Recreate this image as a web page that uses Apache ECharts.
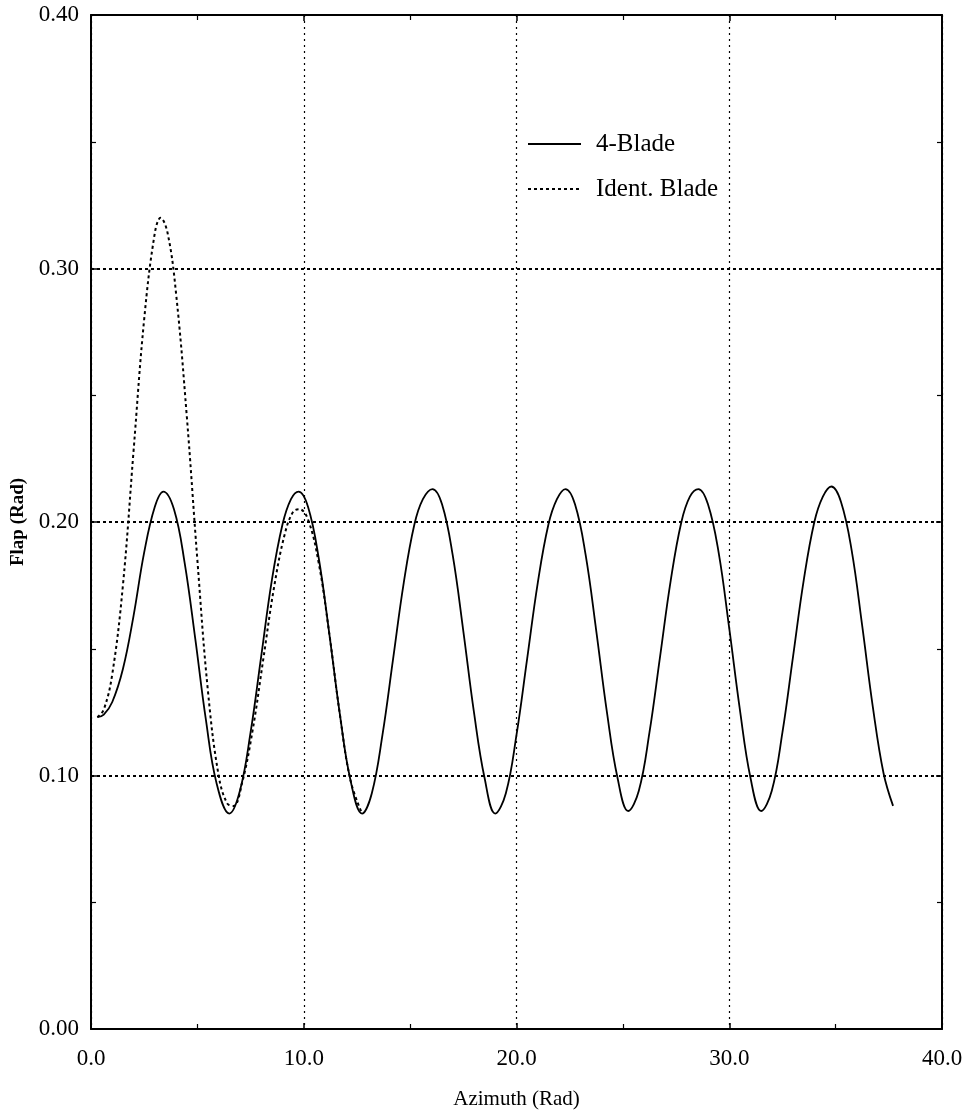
<!DOCTYPE html>
<html>
<head>
<meta charset="utf-8">
<script src="https://cdn.jsdelivr.net/npm/echarts@6/dist/echarts.min.js"></script>
<style>html,body{margin:0;padding:0;background:#fff;}#c{width:969px;height:1115px;}</style>
</head>
<body>
<div id="c"></div>
<script>
var xTicks = [0, 10, 20, 30, 40];
var yTicks = [0, 0.1, 0.2, 0.3, 0.4];

var fourBladeX = [0.3,0.6,1.0,1.5,2.0,2.5,3.0,3.4,3.9,4.4,4.9,5.4,5.9,6.5,7.0,7.5,8.0,8.5,9.0,9.4,9.76,10.2,10.7,11.2,11.7,12.2,12.74,13.2,13.7,14.2,14.7,15.2,15.6,16.05,16.5,17.0,17.5,18.0,18.5,19.0,19.5,20.0,20.5,21.0,21.5,21.9,22.3,22.75,23.25,23.75,24.25,24.75,25.25,25.75,26.25,26.75,27.25,27.75,28.15,28.55,29.0,29.5,30.0,30.5,31.0,31.5,32.0,32.5,33.0,33.5,34.0,34.4,34.8,35.25,35.75,36.25,36.75,37.25,37.7];
var fourBladeY = [0.123,0.124,0.129,0.142,0.163,0.188,0.206,0.212,0.205,0.184,0.154,0.122,0.097,0.085,0.094,0.117,0.147,0.177,0.199,0.209,0.212,0.206,0.186,0.156,0.124,0.098,0.085,0.093,0.116,0.146,0.176,0.199,0.209,0.213,0.207,0.187,0.157,0.125,0.099,0.085,0.093,0.116,0.146,0.176,0.199,0.209,0.213,0.207,0.187,0.157,0.125,0.099,0.086,0.094,0.117,0.147,0.177,0.200,0.210,0.213,0.207,0.188,0.158,0.126,0.099,0.086,0.094,0.117,0.147,0.177,0.200,0.210,0.214,0.208,0.189,0.159,0.127,0.101,0.088];

var identX = [0.3,0.6,1.0,1.5,2.0,2.5,3.0,3.27,3.6,4.0,4.5,5.0,5.5,6.0,6.4,6.7,7.1,7.6,8.1,8.6,9.1,9.5,9.8,10.2,10.7,11.2,11.7,12.2,12.74];
var identY = [0.123,0.126,0.140,0.175,0.228,0.280,0.314,0.320,0.314,0.290,0.242,0.185,0.133,0.100,0.089,0.088,0.097,0.118,0.146,0.174,0.195,0.204,0.205,0.201,0.184,0.156,0.124,0.098,0.085];

function pairs(xs, ys){ var out=[]; for(var i=0;i<xs.length;i++) out.push([xs[i], ys[i]]); return out; }

var FONT = 'Liberation Serif';
var chart = echarts.init(document.getElementById('c'));
var axisLine = {show:true, onZero:false, lineStyle:{color:'#000', width:2}};
var axisTick = {show:true, inside:true, length:6, lineStyle:{color:'#000', width:1.5}};
var minorTick = {show:true, splitNumber:2, length:5, lineStyle:{color:'#000', width:1.2}};
chart.setOption({
  backgroundColor:'#fff',
  animation:false,
  grid:{left:91, right:27, top:15, bottom:86, show:false, containLabel:false, outerBoundsMode:'none'},
  legend:{
    left:522, top:124, orient:'vertical', itemWidth:53, itemHeight:10, itemGap:15,
    itemStyle:{opacity:0},
    textStyle:{fontFamily:FONT, fontSize:25, lineHeight:30, color:'#000', padding:[0,0,0,10]},
    data:['4-Blade','Ident. Blade']
  },
  xAxis:[{
    type:'value', min:0, max:40, interval:10,
    name:'Azimuth (Rad)', nameLocation:'middle', nameGap:60,
    nameTextStyle:{fontFamily:FONT, fontSize:21, color:'#000'},
    axisLabel:{fontFamily:FONT, fontSize:23, color:'#000', margin:18,
      formatter:function(v){ return xTicks.indexOf(v)>=0 ? v.toFixed(1) : ''; }},
    splitLine:{show:true, lineStyle:{color:'#000', type:[2,4], width:1.2}},
    axisLine:axisLine, axisTick:axisTick, minorTick:minorTick
  },{
    type:'value', min:0, max:40, interval:10, position:'top',
    axisLabel:{show:false}, splitLine:{show:false},
    axisLine:axisLine, axisTick:axisTick, minorTick:minorTick
  }],
  yAxis:[{
    type:'value', min:0, max:0.4, interval:0.1,
    name:'Flap (Rad)', nameLocation:'middle', nameGap:52,
    nameTextStyle:{fontFamily:FONT, fontSize:19, fontWeight:'bold', color:'#000'},
    axisLabel:{fontFamily:FONT, fontSize:23, color:'#000', margin:12,
      formatter:function(v){ return v.toFixed(2); }},
    splitLine:{show:true, lineStyle:{color:'#000', type:[3,3], width:2}},
    axisLine:axisLine, axisTick:axisTick, minorTick:minorTick
  },{
    type:'value', min:0, max:0.4, interval:0.1, position:'right',
    axisLabel:{show:false}, splitLine:{show:false},
    axisLine:axisLine, axisTick:axisTick, minorTick:minorTick
  }],
  series:[{
    name:'4-Blade', type:'line', xAxisIndex:0, yAxisIndex:0,
    data:pairs(fourBladeX, fourBladeY), symbol:'none', smooth:0.4, z:3,
    lineStyle:{color:'#000', width:1.8, type:'solid'}, itemStyle:{color:'#000'}
  },{
    name:'Ident. Blade', type:'line', xAxisIndex:0, yAxisIndex:0,
    data:pairs(identX, identY), symbol:'none', smooth:0.4, z:2,
    lineStyle:{color:'#000', width:2, type:[3,3]}, itemStyle:{color:'#000'}
  }]
});
</script>
</body>
</html>
